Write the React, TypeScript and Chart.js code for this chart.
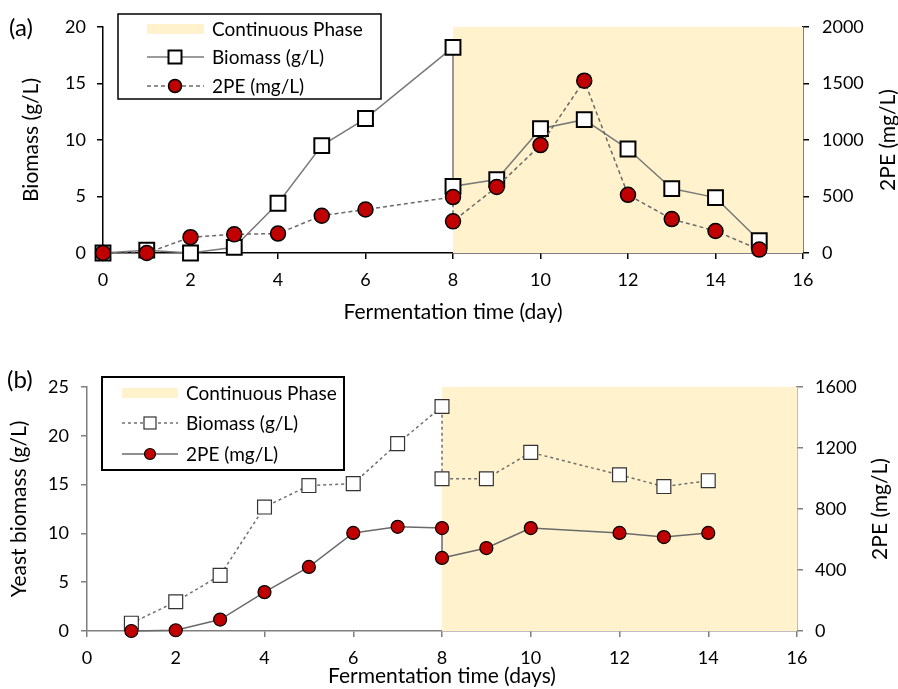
import React, { useEffect, useRef } from 'react';
import { Chart, registerables } from 'chart.js';

Chart.register(...registerables);

const FONT = 'Lato, "Noto Sans", sans-serif';

// ---- Panel (a) data ----
const daysA = [0, 1, 2, 3, 4, 5, 6, 8, 8, 9, 10, 11, 12, 13, 14, 15];
const biomassA = [0, 0.25, 0, 0.5, 4.4, 9.5, 11.9, 18.2, 5.9, 6.5, 11.0, 11.8, 9.2, 5.7, 4.9, 1.1];
const peA = [0, 0, 140, 165, 172, 330, 385, 495, 280, 585, 955, 1525, 515, 300, 195, 30];

// ---- Panel (b) data ----
const daysB = [1, 2, 3, 4, 5, 6, 7, 8, 8, 9, 10, 12, 13, 14];
const biomassB = [0.8, 3.0, 5.7, 12.7, 14.9, 15.1, 19.2, 23.0, 15.6, 15.6, 18.3, 16.0, 14.8, 15.4];
const peB = [0, 5, 75, 255, 420, 643, 683, 675, 479, 544, 675, 643, 616, 643];

// ---- shared ----
const phaseStart = 8;
const phaseEnd = 16;
const xMin = 0;
const xMax = 16;
const xStep = 2;
const legendLabels = ['Continuous Phase', 'Biomass (g/L)', '2PE (mg/L)'];

const RED = '#C00000';
const SHADE = '#FFF2CC';

const TICK_SIZE = 18;
const TITLE_SIZE = 21;
const LEGEND_SIZE = 19;

type Panel = {
  letter: string;
  letterX: number;
  letterY: number;
  height: number;
  days: number[];
  biomass: number[];
  pe: number[];
  yMax: number;
  yStep: number;
  y2Max: number;
  y2Step: number;
  xTitle: string;
  yTitle: string;
  y2Title: string;
  plotTop: number;
  plotLeft: number;
  plotRight: number;
  xAxisH: number;
  axisColor: string;
  axisWidth: number;
  xTickPad: number;
  yTickPad: number;
  y2TickPad: number;
  xTitlePadBottom: number;
  yTitlePadTop: number;
  y2TitleX: number;
  bioDash: number[];
  peDash: number[];
  bioLine: string;
  peLine: string;
  sqR: number;
  sqBW: number;
  sqBorder: string;
  cirR: number;
  cirBW: number;
  legend: {
    x: number; y: number; w: number; h: number; bw: number;
    rows: number[]; sx1: number; sx2: number; mx: number; tx: number;
    sq: number; cr: number;
  };
};

const panelA: Panel = {
  letter: '(a)', letterX: 9, letterY: 28, height: 345,
  days: daysA, biomass: biomassA, pe: peA,
  yMax: 20, yStep: 5, y2Max: 2000, y2Step: 500,
  xTitle: 'Fermentation time (day)', yTitle: 'Biomass (g/L)', y2Title: '2PE (mg/L)',
  plotTop: 27, plotLeft: 103, plotRight: 803, xAxisH: 92,
  axisColor: '#000', axisWidth: 1.5,
  xTickPad: 10, yTickPad: 11, y2TickPad: 13,
  xTitlePadBottom: 20, yTitlePadTop: 19, y2TitleX: 888,
  bioDash: [], peDash: [4, 3], bioLine: '#7a7a7a', peLine: '#6a6a6a',
  sqR: 10.5, sqBW: 2, sqBorder: '#000', cirR: 7.5, cirBW: 1.5,
  legend: { x: 118, y: 14, w: 263, h: 85, bw: 1.5, rows: [29, 57, 86], sx1: 147, sx2: 204, mx: 175, tx: 212, sq: 13, cr: 6.5 },
};

const panelB: Panel = {
  letter: '(b)', letterX: 7, letterY: 35, height: 344,
  days: daysB, biomass: biomassB, pe: peB,
  yMax: 25, yStep: 5, y2Max: 1600, y2Step: 400,
  xTitle: 'Fermentation time (days)', yTitle: 'Yeast biomass (g/L)', y2Title: '2PE (mg/L)',
  plotTop: 42, plotLeft: 87, plotRight: 797, xAxisH: 58,
  axisColor: '#7f7f7f', axisWidth: 1.5,
  xTickPad: 10, yTickPad: 12, y2TickPad: 12,
  xTitlePadBottom: 0, yTitlePadTop: 7, y2TitleX: 880,
  bioDash: [3, 3], peDash: [], bioLine: '#707070', peLine: '#6a6a6a',
  sqR: 9.8, sqBW: 1.2, sqBorder: '#333', cirR: 6.5, cirBW: 1.2,
  legend: { x: 102, y: 32, w: 242, h: 93, bw: 2, rows: [48, 78, 109], sx1: 122, sx2: 178, mx: 150, tx: 186, sq: 12, cr: 5.5 },
};

function decorPlugin(p: Panel) {
  return {
    id: 'decor' + p.letter,
    afterDraw(chart: any) {
      const ctx: CanvasRenderingContext2D = chart.ctx;
      const ca = chart.chartArea;
      ctx.save();
      // panel letter
      ctx.fillStyle = '#000';
      ctx.font = `24px ${FONT}`;
      ctx.textAlign = 'left';
      ctx.textBaseline = 'middle';
      ctx.fillText(p.letter, p.letterX, p.letterY);
      // right axis title (reads bottom to top)
      ctx.save();
      ctx.translate(p.y2TitleX, (ca.top + ca.bottom) / 2);
      ctx.rotate(-Math.PI / 2);
      ctx.textAlign = 'center';
      ctx.font = `${TITLE_SIZE}px ${FONT}`;
      ctx.fillText(p.y2Title, 0, 0);
      ctx.restore();
      // legend
      const L = p.legend;
      ctx.fillStyle = '#fff';
      ctx.fillRect(L.x, L.y, L.w, L.h);
      ctx.strokeStyle = '#000';
      ctx.lineWidth = L.bw;
      ctx.strokeRect(L.x, L.y, L.w, L.h);
      // row 1: shade swatch
      ctx.fillStyle = SHADE;
      ctx.fillRect(L.sx1, L.rows[0] - 5, L.sx2 - L.sx1, 10);
      // row 2: biomass
      ctx.strokeStyle = p.bioLine;
      ctx.lineWidth = 1.5;
      ctx.setLineDash(p.bioDash);
      ctx.beginPath();
      ctx.moveTo(L.sx1, L.rows[1]);
      ctx.lineTo(L.sx2, L.rows[1]);
      ctx.stroke();
      ctx.setLineDash([]);
      ctx.fillStyle = '#fff';
      ctx.strokeStyle = p.sqBorder;
      ctx.lineWidth = p.sqBW;
      ctx.fillRect(L.mx - L.sq / 2, L.rows[1] - L.sq / 2, L.sq, L.sq);
      ctx.strokeRect(L.mx - L.sq / 2, L.rows[1] - L.sq / 2, L.sq, L.sq);
      // row 3: 2PE
      ctx.strokeStyle = p.peLine;
      ctx.lineWidth = 1.5;
      ctx.setLineDash(p.peDash);
      ctx.beginPath();
      ctx.moveTo(L.sx1, L.rows[2]);
      ctx.lineTo(L.sx2, L.rows[2]);
      ctx.stroke();
      ctx.setLineDash([]);
      ctx.fillStyle = RED;
      ctx.strokeStyle = '#000';
      ctx.lineWidth = p.cirBW;
      ctx.beginPath();
      ctx.arc(L.mx, L.rows[2], L.cr, 0, Math.PI * 2);
      ctx.fill();
      ctx.stroke();
      // legend texts
      ctx.fillStyle = '#000';
      ctx.font = `${LEGEND_SIZE}px ${FONT}`;
      ctx.textAlign = 'left';
      ctx.textBaseline = 'middle';
      legendLabels.forEach((t, i) => ctx.fillText(t, L.tx, L.rows[i] + 1));
      ctx.restore();
    },
  };
}

const plainTick = (v: any) => String(v);

function makeConfig(p: Panel): any {
  const tickFont = { family: FONT, size: TICK_SIZE };
  const titleFont = { family: FONT, size: TITLE_SIZE };
  const grid = {
    drawOnChartArea: false,
    drawTicks: true,
    tickLength: 6,
    color: p.axisColor,
    lineWidth: p.axisWidth,
  };
  const border = { color: p.axisColor, width: p.axisWidth };
  return {
    type: 'line',
    data: {
      datasets: [
        {
          label: legendLabels[2],
          data: p.days.map((d, i) => ({ x: d, y: p.pe[i] })),
          yAxisID: 'y2',
          borderColor: p.peLine,
          borderWidth: 1.5,
          borderDash: p.peDash,
          pointStyle: 'circle',
          pointRadius: p.cirR,
          pointBackgroundColor: RED,
          pointBorderColor: '#000',
          pointBorderWidth: p.cirBW,
          fill: false,
          tension: 0,
          clip: false,
          order: 1,
        },
        {
          label: legendLabels[1],
          data: p.days.map((d, i) => ({ x: d, y: p.biomass[i] })),
          yAxisID: 'y',
          borderColor: p.bioLine,
          borderWidth: 1.5,
          borderDash: p.bioDash,
          pointStyle: 'rect',
          pointRadius: p.sqR,
          pointBackgroundColor: '#fff',
          pointBorderColor: p.sqBorder,
          pointBorderWidth: p.sqBW,
          fill: false,
          tension: 0,
          clip: false,
          order: 2,
        },
        {
          label: legendLabels[0],
          data: [
            { x: phaseStart, y: p.y2Max },
            { x: phaseEnd, y: p.y2Max },
          ],
          yAxisID: 'y2',
          backgroundColor: SHADE,
          borderWidth: 0,
          pointRadius: 0,
          fill: 'origin',
          order: 10,
        },
      ],
    },
    options: {
      responsive: false,
      animation: false,
      events: [],
      layout: { padding: { top: p.plotTop, left: 0, right: 0, bottom: 0 } },
      plugins: { legend: { display: false }, tooltip: { enabled: false } },
      scales: {
        x: {
          type: 'linear',
          min: xMin,
          max: xMax,
          ticks: { stepSize: xStep, font: tickFont, color: '#000', padding: p.xTickPad, maxRotation: 0, callback: plainTick },
          grid,
          border,
          title: { display: true, text: p.xTitle, font: titleFont, color: '#000', padding: { top: 0, bottom: p.xTitlePadBottom } },
          afterFit: (s: any) => { s.height = p.xAxisH; },
        },
        y: {
          type: 'linear',
          position: 'left',
          min: 0,
          max: p.yMax,
          ticks: { stepSize: p.yStep, font: tickFont, color: '#000', padding: p.yTickPad, callback: plainTick },
          grid,
          border,
          title: { display: true, text: p.yTitle, font: titleFont, color: '#000', padding: { top: p.yTitlePadTop, bottom: 0 } },
          afterFit: (s: any) => { s.width = p.plotLeft; },
        },
        y2: {
          type: 'linear',
          position: 'right',
          min: 0,
          max: p.y2Max,
          ticks: { stepSize: p.y2Step, font: tickFont, color: '#000', padding: p.y2TickPad, callback: plainTick },
          grid,
          border,
          title: { display: false },
          afterFit: (s: any) => { s.width = 898 - p.plotRight; },
        },
      },
    },
    plugins: [decorPlugin(p)],
  };
}

function PanelChart({ panel, top }: { panel: Panel; top: number }) {
  const ref = useRef<HTMLCanvasElement | null>(null);
  useEffect(() => {
    if (!ref.current) return;
    const chart = new Chart(ref.current, makeConfig(panel));
    return () => chart.destroy();
  }, [panel]);
  return (
    <canvas
      ref={ref}
      width={898}
      height={panel.height}
      style={{ position: 'absolute', left: 0, top, width: 898, height: panel.height, display: 'block' }}
    />
  );
}

export default function App() {
  return (
    <div style={{ position: 'absolute', left: 0, top: 0, width: 898, height: 689, background: '#fff' }}>
      <PanelChart panel={panelA} top={0} />
      <PanelChart panel={panelB} top={345} />
    </div>
  );
}
